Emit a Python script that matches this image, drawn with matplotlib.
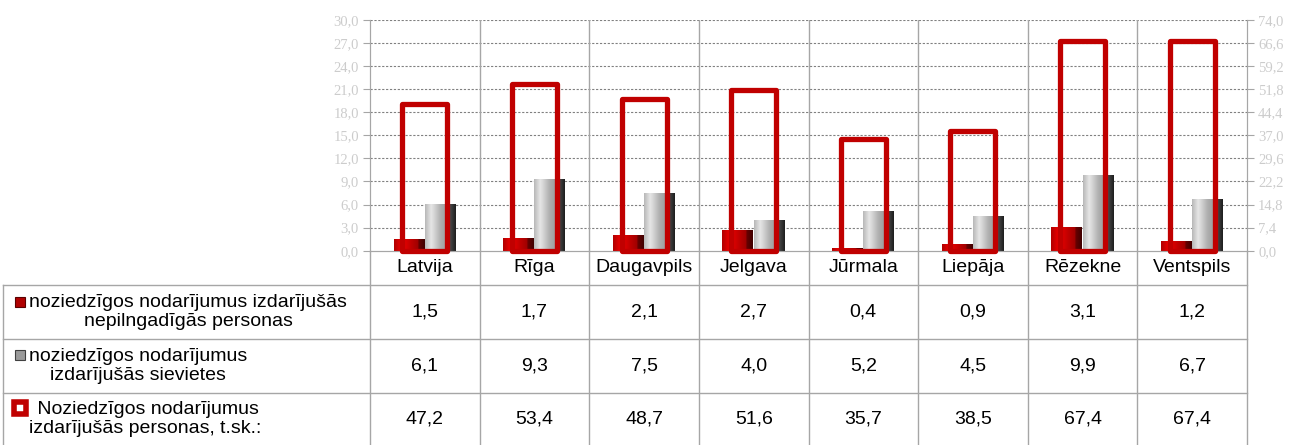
import numpy as np
import matplotlib
matplotlib.use("Agg")
import matplotlib.pyplot as plt
from matplotlib.colors import LinearSegmentedColormap
from matplotlib.lines import Line2D
from matplotlib import transforms

# Daten
categories = ["Latvija", "Rīga", "Daugavpils", "Jelgava", "Jūrmala", "Liepāja", "Rēzekne", "Ventspils"]
minors = [1.5, 1.7, 2.1, 2.7, 0.4, 0.9, 3.1, 1.2]       # nepilngadīgās personas
women = [6.1, 9.3, 7.5, 4.0, 5.2, 4.5, 9.9, 6.7]        # sievietes
totals = [47.2, 53.4, 48.7, 51.6, 35.7, 38.5, 67.4, 67.4]  # personas kopā
row_labels = [
    "noziedzīgos nodarījumus izdarījušās\nnepilngadīgās personas",
    "noziedzīgos nodarījumus\nizdarījušās sievietes",
    " Noziedzīgos nodarījumus\nizdarījušās personas, t.sk.:",
]
left_ticks = np.arange(0, 30.01, 3.0)
right_ticks = np.arange(0, 74.01, 7.4)

W, H = 1298, 445
fig = plt.figure(figsize=(W / 100, H / 100), dpi=100)
plt.rcParams['font.family'] = ['Liberation Sans', 'DejaVu Sans']

ax_left, ax_right = 370 / W, 1247 / W
ax_bot_px, ax_top_px = 250.7, 20
ax = fig.add_axes([ax_left, 1 - ax_bot_px / H, ax_right - ax_left, (ax_bot_px - ax_top_px) / H])
ax2 = ax.twinx()

x = np.arange(len(categories))
grid_col = "#a6a6a6"

# Verlaufsfarben für den 3D-Look
cm_gray = LinearSegmentedColormap.from_list("g", [(0, "#b8b8b8"), (0.2, "#e6e6e6"), (0.5, "#b0b0b0"),
                                                  (0.78, "#949494"), (0.8, "#4a4a4a"), (1, "#1e1e1e")])
cm_red = LinearSegmentedColormap.from_list("r", [(0, "#b00000"), (0.25, "#f00000"), (0.5, "#c80000"),
                                                 (0.78, "#a00000"), (0.8, "#680000"), (1, "#400000")])
grad = np.linspace(0, 1, 200).reshape(1, -1)

def shaded_bars(xs, vals, cmap):
    bars = ax.bar(xs, vals, width=0.28, color="none", edgecolor="none", zorder=3)
    for b in bars:
        x0, y0 = b.get_x(), b.get_y()
        im = ax.imshow(grad, cmap=cmap, aspect="auto", zorder=3,
                       extent=(x0, x0 + b.get_width(), y0, y0 + b.get_height()))
        im.set_clip_path(b)

shaded_bars(x - 0.145, minors, cm_red)
shaded_bars(x + 0.14, women, cm_gray)

ax2.bar(x, totals, width=0.41, fill=False, edgecolor="#c00000", linewidth=3.8,
        joinstyle="round", clip_on=False, zorder=4)

ax.set_xlim(-0.5, len(categories) - 0.5)
ax.set_ylim(0, 30)
ax2.set_ylim(0, 74)

# Gitter
for v in left_ticks[1:]:
    ax.axhline(v, color="#808080", linewidth=0.8, linestyle=(0, (2, 1.5)), zorder=1)
for b in np.arange(0.5, len(categories) - 0.5):
    ax.axvline(b, color=grid_col, linewidth=1, zorder=1)

fmt = lambda v: f"{v:.1f}".replace(".", ",")
tick_font = dict(family="Liberation Serif", size=10.5, color="#cccccc")
ax.set_yticks(left_ticks)
ax.set_yticklabels([fmt(v) for v in left_ticks], **tick_font)
ax2.set_yticks(right_ticks)
ax2.set_yticklabels([fmt(v) for v in right_ticks], **tick_font)
ax.set_xticks([])
for a in (ax, ax2):
    a.tick_params(axis="y", length=5, color=grid_col, pad=3)
    for s in a.spines.values():
        s.set_color(grid_col)
    a.spines["top"].set_visible(False)

# Tabelle unter dem Diagramm
ypx = lambda p: 1 - p / H
row_lines = [285, 339, 393]
row_centers = [268, 312, 366, 419]
blend = transforms.blended_transform_factory(ax.transData, fig.transFigure)

for y in row_lines:
    fig.add_artist(Line2D([3 / W, ax_right], [ypx(y), ypx(y)], color=grid_col, linewidth=1))
fig.add_artist(Line2D([3 / W, 3 / W], [ypx(row_lines[0]), 0], color=grid_col, linewidth=1))
for b in np.arange(-0.5, len(categories)):
    fig.add_artist(Line2D([b, b], [ypx(ax_bot_px), 0], color=grid_col, linewidth=1, transform=blend))

for i, c in enumerate(categories):
    fig.text(i, ypx(row_centers[0]), c, transform=blend, ha="center", va="center", fontsize=14)
    for r, vals in enumerate([minors, women, totals]):
        fig.text(i, ypx(row_centers[r + 1]), fmt(vals[i]), transform=blend,
                 ha="center", va="center", fontsize=14)

for r, lab in enumerate(row_labels):
    fig.text(29 / W, ypx(row_centers[r + 1]), lab, ha="left", va="center",
             multialignment="center", fontsize=14, linespacing=1.15)

# Legendensymbole
fig.add_artist(Line2D([20 / W], [ypx(302)], marker="s", markersize=7.5, color="#b00000",
                      markeredgecolor="#5a0000", markeredgewidth=0.8))
fig.add_artist(Line2D([20 / W], [ypx(355)], marker="s", markersize=7.5, color="#9a9a9a",
                      markeredgecolor="#404040", markeredgewidth=0.8))
fig.add_artist(Line2D([20 / W], [ypx(408)], marker="s", markersize=8, markerfacecolor="white",
                      markeredgecolor="#c00000", markeredgewidth=4, solid_joinstyle="round"))

fig.savefig("out.png", dpi=100)
